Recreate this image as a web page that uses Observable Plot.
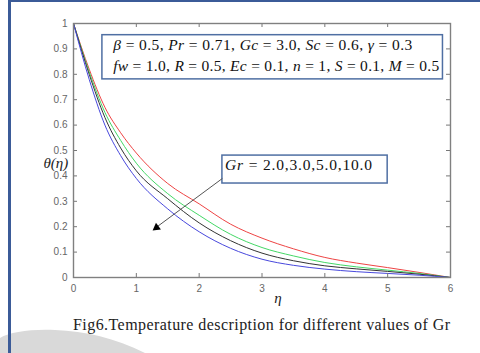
<!DOCTYPE html>
<html><head><meta charset="utf-8">
<script src="https://cdn.jsdelivr.net/npm/d3@7"></script>
<script src="https://cdn.jsdelivr.net/npm/@observablehq/plot@0.6"></script>
<style>
body{margin:0;background:#fff;}
#wrap{position:relative;width:480px;height:353px;overflow:hidden;background:#fff;}
#bg,#fg,#chart{position:absolute;left:0;top:0;}
#fg{pointer-events:none;}
</style></head><body>
<div id="wrap">
<svg id="bg" width="480" height="353">
  <path d="M0,338 C10,332 30,329 55,330 C85,331 115,338 145,353 L0,353 Z" fill="#d9d9d9"/>
  <rect x="8" y="0" width="3" height="353" fill="#3b5b98"/>
  <rect x="8" y="0" width="472" height="2" fill="#3b5b98"/>
</svg>
<div id="chart"></div>
<svg id="fg" width="480" height="353"></svg>
</div>
<script>
// ---- data ----
const eta = [0, 0.25, 0.5, 0.75, 1, 1.5, 2, 2.5, 3, 3.5, 4, 4.5, 5, 5.5, 6];
const grLabels = ["2.0", "3.0", "5.0", "10.0"];
const grColors = ["#ee4444", "#44d866", "#333333", "#4848dd"];
const thetaGr2  = [1, 0.82, 0.67, 0.57, 0.49, 0.37, 0.29, 0.21, 0.155, 0.113, 0.079, 0.057, 0.039, 0.020, 0];
const thetaGr3  = [1, 0.81, 0.65, 0.54, 0.45, 0.33, 0.245, 0.17, 0.118, 0.085, 0.059, 0.042, 0.029, 0.016, 0];
const thetaGr5  = [1, 0.80, 0.63, 0.51, 0.42, 0.31, 0.215, 0.145, 0.096, 0.066, 0.046, 0.034, 0.024, 0.013, 0];
const thetaGr10 = [1, 0.78, 0.60, 0.48, 0.39, 0.27, 0.18, 0.115, 0.072, 0.048, 0.033, 0.023, 0.016, 0.009, 0];
const xTicks = [0, 1, 2, 3, 4, 5, 6];
const yTicks = [0, 0.1, 0.2, 0.3, 0.4, 0.5, 0.6, 0.7, 0.8, 0.9, 1];
const xLabel = "η";
const yLabel = "θ(η)";
const caption = "Fig6.Temperature description for different values of Gr";
// annotation boxes (data coords)
const boxes = [
  {x1: 0.46, x2: 5.88, y1: 0.78, y2: 0.954},
  {x1: 2.37, x2: 5.0, y1: 0.37, y2: 0.48}
];
const paramLine1 = [["β", true], [" = 0.5, ", false], ["Pr", true], [" = 0.71, ", false], ["Gc", true], [" = 3.0, ", false], ["Sc", true], [" = 0.6, ", false], ["γ", true], [" = 0.3", false]];
const paramLine2 = [["fw", true], [" = 1.0, ", false], ["R", true], [" = 0.5, ", false], ["Ec", true], [" = 0.1, ", false], ["n", true], [" = 1, ", false], ["S", true], [" = 0.1, ", false], ["M", true], [" = 0.5", false]];
const grLine = [["Gr", true], [" = 2.0,3.0,5.0,10.0", false]];
const annTexts = [
  {parts: paramLine1, x: 0.64, y: 0.895, len: 299},
  {parts: paramLine2, x: 0.64, y: 0.810, len: 326},
  {parts: grLine, x: 2.42, y: 0.421, len: 147}
];
const arrowLine = [{x1: 2.37, y1: 0.39, x2: 1.31, y2: 0.196}];
const arrowHead = [{x: 1.321, y: 0.1965}];

// ---- build table ----
const series = [thetaGr2, thetaGr3, thetaGr5, thetaGr10];
const rows = [];
series.forEach((s, i) => s.forEach((v, j) => rows.push({eta: eta[j], theta: v, gr: grLabels[i], color: grColors[i]})));

const ML = 73, MR = 30, MT = 23, MB = 76, W = 480, H = 353;
const innerW = W - ML - MR, innerH = H - MT - MB;
const tickLen = 4;

const plot = Plot.plot({
  width: W, height: H,
  marginLeft: ML, marginRight: MR, marginTop: MT, marginBottom: MB,
  style: {background: "transparent", fontFamily: "'Liberation Sans', Arial, sans-serif", fontSize: "10px", color: "#5a5a5a", overflow: "visible"},
  x: {domain: [0, 6]},
  y: {domain: [0, 1]},
  color: {type: "identity"},
  marks: [
    Plot.rect(boxes, {x1: "x1", x2: "x2", y1: "y1", y2: "y2", fill: "white", stroke: "#4f6fa3", strokeWidth: 1.5}),
    Plot.line(rows, {x: "eta", y: "theta", z: "gr", stroke: "color", curve: "monotone-x", strokeWidth: 1}),
    Plot.tickX(xTicks, {x: d => d, insetTop: innerH - tickLen, stroke: "#777"}),
    Plot.tickX(xTicks, {x: d => d, insetBottom: innerH - tickLen, stroke: "#777"}),
    Plot.tickY(yTicks, {y: d => d, insetRight: innerW - tickLen, stroke: "#777"}),
    Plot.tickY(yTicks, {y: d => d, insetLeft: innerW - tickLen, stroke: "#777"}),
    Plot.frame({stroke: "#808080", strokeWidth: 1.4}),
    Plot.axisX(xTicks, {tickSize: 0, tickPadding: 7, label: null, fill: "#666", tickFormat: d => String(d)}),
    Plot.axisY(yTicks, {tickSize: 0, tickPadding: 6, label: null, fill: "#666", tickFormat: d => String(d)}),
    Plot.link(arrowLine, {x1: "x1", y1: "y1", x2: "x2", y2: "y2", stroke: "#555", strokeWidth: 1}),
    Plot.dot(arrowHead, {x: "x", y: "y", symbol: "triangle2", r: 4, fill: "#000", stroke: "none", rotate: 233.5}),
    Plot.text([xLabel], {text: d => d, frameAnchor: "bottom", dx: 16, dy: 25, fontFamily: "'Liberation Serif', serif", fontStyle: "italic", fontSize: 15, fill: "#222"}),
    Plot.text([yLabel], {text: d => d, frameAnchor: "left", dx: -30, dy: 13, fontFamily: "'Liberation Serif', serif", fontStyle: "italic", fontSize: 15, fill: "#222"})
  ]
});
document.getElementById("chart").appendChild(plot);

// ---- annotations and caption (text overlay positioned with the plot's scales) ----
const sx = plot.scale("x"), sy = plot.scale("y");
const fg = d3.select("#fg");
annTexts.forEach(a => {
  const t = fg.append("text")
    .attr("x", sx.apply(a.x)).attr("y", sy.apply(a.y))
    .attr("font-family", "'Liberation Serif', 'Times New Roman', serif")
    .attr("font-size", 15.5).attr("fill", "#111")
    .attr("textLength", a.len).attr("lengthAdjust", "spacing")
    .attr("xml:space", "preserve").style("white-space", "pre");
  a.parts.forEach(([s, it]) => t.append("tspan").attr("font-style", it ? "italic" : "normal").text(s));
});
fg.append("text")
  .attr("x", (sx.apply(0) + sx.apply(6)) / 2).attr("y", 330)
  .attr("text-anchor", "middle")
  .attr("font-family", "'Liberation Serif', 'Times New Roman', serif")
  .attr("font-size", 16).attr("fill", "#222")
  .attr("textLength", 377).attr("lengthAdjust", "spacing")
  .text(caption);
</script>
</body></html>
